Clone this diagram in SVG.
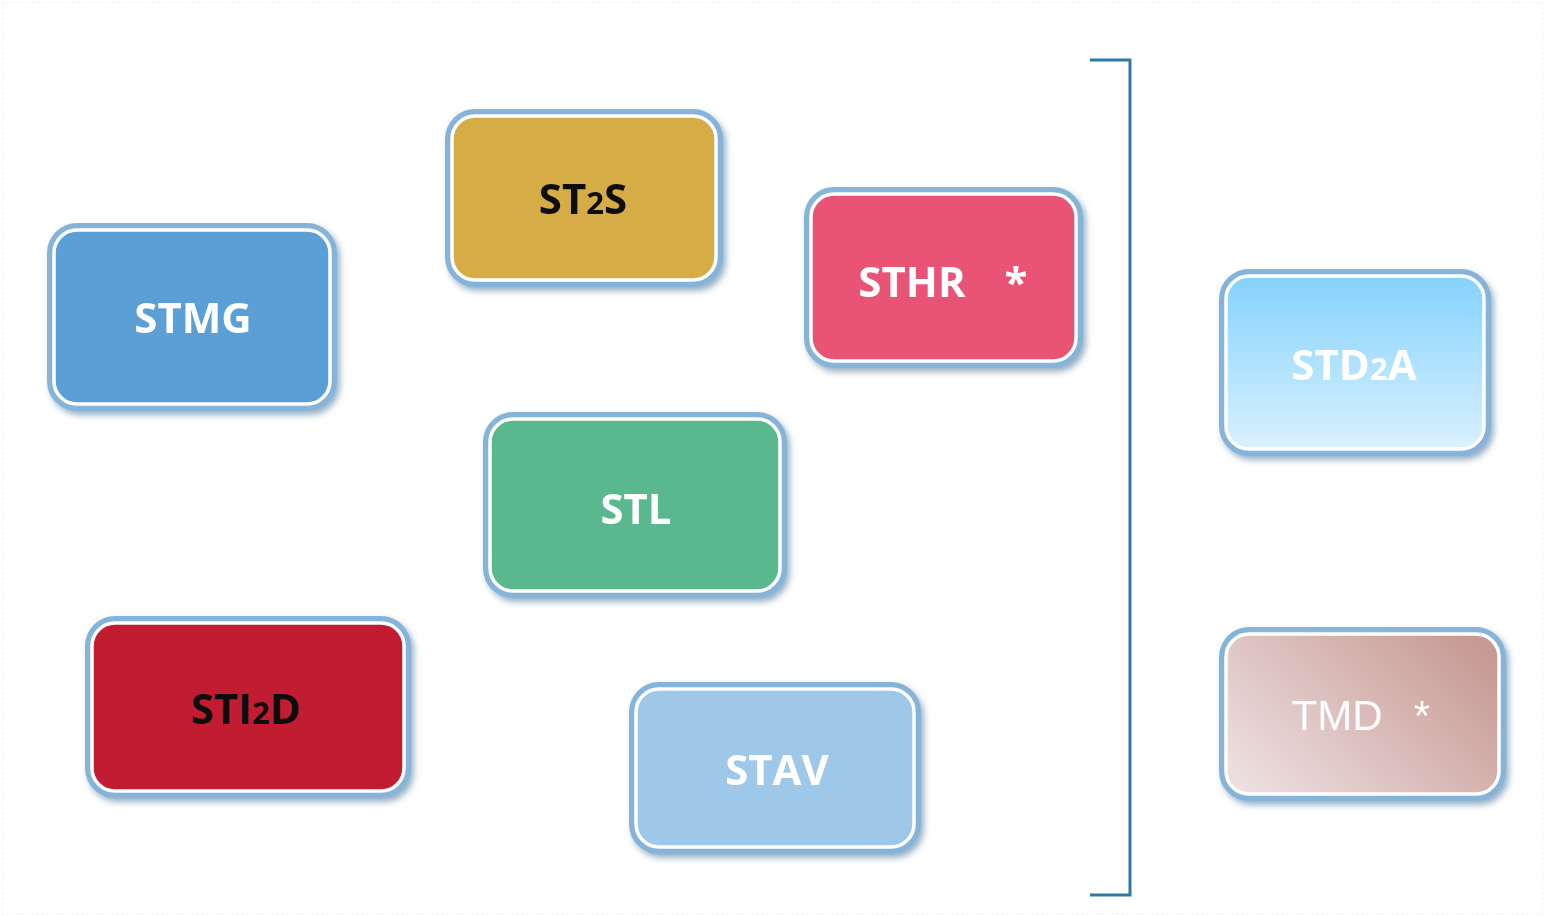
<svg xmlns="http://www.w3.org/2000/svg" width="1545" height="916" viewBox="0 0 1545 916">
<style>
.glow{fill:none;stroke:#86b4d8;stroke-width:8}
.box{stroke:#ffffff;stroke-width:3.5}
.lbl{font-family:"Open Sans","Noto Sans",sans-serif;font-weight:700;font-size:42px;text-anchor:middle}
.w{fill:#ffffff}
.k{fill:#111111}
.small{font-size:31px}
</style>
<defs>
<filter id="sh" x="-10%" y="-10%" width="125%" height="130%">
<feDropShadow dx="3" dy="4" stdDeviation="3" flood-color="#3f6f96" flood-opacity="0.55"/>
</filter>
<linearGradient id="gD" x1="0" y1="0" x2="0" y2="1">
<stop offset="0" stop-color="#84d2fd"/>
<stop offset="1" stop-color="#d9f1fe"/>
</linearGradient>
<linearGradient id="gT" x1="0" y1="0.8" x2="1" y2="0.2">
<stop offset="0" stop-color="#ecdede"/>
<stop offset="1" stop-color="#c79a94"/>
</linearGradient>
</defs>
<rect x="2.5" y="2.5" width="1540" height="911" fill="none" stroke="#ececec" stroke-dasharray="2 3"/>

<g id="STMG" filter="url(#sh)">
<rect class="glow" x="51" y="227" width="282" height="180" rx="26"/>
<rect class="box" x="54" y="230" width="276" height="174" rx="23" fill="#5a9fd6"/>
<text class="lbl w" x="193" y="333">STMG</text>
</g>

<g id="ST2S" filter="url(#sh)">
<rect class="glow" x="449" y="113" width="270" height="170" rx="26"/>
<rect class="box" x="452" y="116" width="264" height="164" rx="23" fill="#d6ac47"/>
<text class="lbl k" x="583" y="214">ST<tspan class="small">2</tspan>S</text>
</g>

<g id="STHR" filter="url(#sh)">
<rect class="glow" x="808" y="191" width="271" height="173" rx="26"/>
<rect class="box" x="811" y="194" width="265" height="167" rx="23" fill="#e85276"/>
<text class="lbl w" x="912" y="297">STHR</text>
<text class="lbl w" x="1016" y="297">*</text>
</g>

<g id="STL" filter="url(#sh)">
<rect class="glow" x="487" y="416" width="296" height="178" rx="26"/>
<rect class="box" x="490" y="419" width="290" height="172" rx="23" fill="#5ab88e"/>
<text class="lbl w" x="636" y="524">STL</text>
</g>

<g id="STI2D" filter="url(#sh)">
<rect class="glow" x="89" y="620" width="318" height="174" rx="26"/>
<rect class="box" x="92" y="623" width="312" height="168" rx="23" fill="#c21a30"/>
<text class="lbl k" x="246" y="724">STI<tspan class="small">2</tspan>D</text>
</g>

<g id="STAV" filter="url(#sh)">
<rect class="glow" x="633" y="686" width="284" height="164" rx="26"/>
<rect class="box" x="636" y="689" width="278" height="158" rx="23" fill="#9fc7e8"/>
<text class="lbl w" x="777" y="785">STAV</text>
</g>

<g id="STD2A" filter="url(#sh)">
<rect class="glow" x="1223" y="273" width="264" height="179" rx="26"/>
<rect class="box" x="1226" y="276" width="258" height="173" rx="23" fill="url(#gD)"/>
<text class="lbl w" x="1354" y="380">STD<tspan class="small">2</tspan>A</text>
</g>

<g id="TMD" filter="url(#sh)">
<rect class="glow" x="1223" y="631" width="279" height="166" rx="26"/>
<rect class="box" x="1226" y="634" width="273" height="160" rx="23" fill="url(#gT)"/>
<text class="w" x="1337" y="730" font-family="'Liberation Sans',Arial,sans-serif" font-size="42" text-anchor="middle">TMD</text>
<text class="w" x="1422" y="730" font-family="'Liberation Sans',Arial,sans-serif" font-size="42" text-anchor="middle">*</text>
</g>

<g id="connectors">
<path d="M1090 60 H1130 V895 H1090" fill="none" stroke="#2e78a8" stroke-width="3"/>
</g>
</svg>
